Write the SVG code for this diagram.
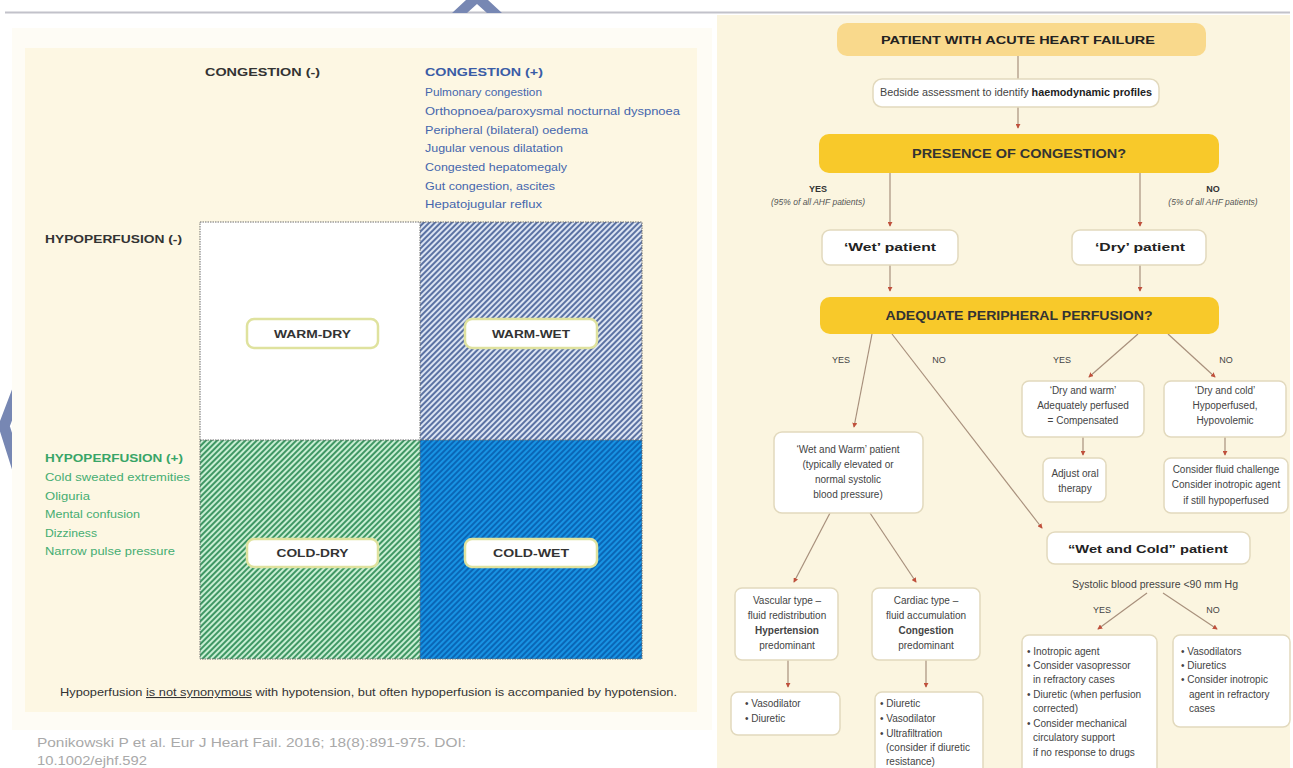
<svg xmlns="http://www.w3.org/2000/svg" width="1293" height="768" viewBox="0 0 1293 768">
  <style>
    text { font-family: "Liberation Sans", Arial, sans-serif; }
    .hdr { font-weight: bold; font-size: 11.5px; fill: #333; }
    .blu { font-size: 11.5px; fill: #4566ad; }
    .bluh { font-weight: bold; font-size: 11.5px; fill: #3a5ca6; }
    .grn { font-size: 11.5px; fill: #45ad72; }
    .grnh { font-weight: bold; font-size: 11.5px; fill: #38a567; }
    .qlab { font-weight: bold; font-size: 11px; fill: #333; text-anchor: middle; }
    .qbox { fill: #ffffff; stroke: #dfe29e; stroke-width: 2.5; }
    .cap { font-size: 10.5px; fill: #333; }
    .cite { font-size: 12.5px; fill: #a9a9a9; }
    .gold { fill: #f8c92a; }
    .pale { fill: #f9d98c; }
    .box { fill: #ffffff; stroke: #e2d9bd; stroke-width: 1.5; }
    .big { font-weight: bold; font-size: 13px; fill: #333; text-anchor: middle; }
    .mid { font-weight: bold; font-size: 11px; fill: #222; text-anchor: middle; }
    .sm { font-size: 10px; fill: #444; }
    .smc { font-size: 10px; fill: #444; text-anchor: middle; }
    .yn { font-size: 9px; fill: #444; text-anchor: middle; }
    .ynb { font-size: 9px; font-weight: bold; fill: #333; text-anchor: middle; }
    .pct { font-size: 8.5px; font-style: italic; fill: #555; text-anchor: middle; }
    .conn line { stroke: #a8907c; stroke-width: 1.2; fill: none; }
    .chev { fill: none; stroke: #7787b3; stroke-width: 11; }
  </style>
  <defs>
    <marker id="arr" viewBox="0 0 6 6" refX="5" refY="3" markerWidth="5" markerHeight="5" markerUnits="userSpaceOnUse" orient="auto">
      <path d="M0,0 L6,3 L0,6 z" fill="#c0503c"/>
    </marker>
    <pattern id="hatchBlueGray" width="4" height="4" patternUnits="userSpaceOnUse" patternTransform="rotate(45)">
      <rect width="4" height="4" fill="#dce4f2"/>
      <line x1="1" y1="0" x2="1" y2="4" stroke="#5b72a3" stroke-width="2"/>
    </pattern>
    <pattern id="hatchGreen" width="4" height="4" patternUnits="userSpaceOnUse" patternTransform="rotate(45)">
      <rect width="4" height="4" fill="#c8eed3"/>
      <line x1="1" y1="0" x2="1" y2="4" stroke="#3f9764" stroke-width="2"/>
    </pattern>
    <pattern id="hatchBlue" width="4" height="4" patternUnits="userSpaceOnUse" patternTransform="rotate(45)">
      <rect width="4" height="4" fill="#1893e3"/>
      <line x1="1" y1="0" x2="1" y2="4" stroke="#0a66b6" stroke-width="2"/>
    </pattern>
  </defs>

  <rect width="1293" height="768" fill="#ffffff"/>

  <!-- slide frame -->
  <line x1="5" y1="12.5" x2="1290" y2="12.5" stroke="#c2c2ca" stroke-width="2"/>
  <polygon points="466,0 488,0 502,13 487,13 477,4 467,13 452,13" fill="#7787b3"/>
  <polyline class="chev" points="20,384 4,426 18,470"/>

  <!-- left panel: haemodynamic profiles -->
  <rect x="12" y="28" width="700" height="702" fill="#fefcf5"/>
  <rect x="25" y="48" width="672" height="664" fill="#fdf7e3"/>

  <g id="axis-labels">
    <text class="hdr" x="205" y="76" textLength="115" lengthAdjust="spacingAndGlyphs">CONGESTION (-)</text>
    <text class="bluh" x="425" y="76" textLength="118" lengthAdjust="spacingAndGlyphs">CONGESTION (+)</text>
    <text class="blu" x="425" y="96" textLength="117" lengthAdjust="spacingAndGlyphs">Pulmonary congestion</text>
    <text class="blu" x="425" y="115" textLength="255" lengthAdjust="spacingAndGlyphs">Orthopnoea/paroxysmal nocturnal dyspnoea</text>
    <text class="blu" x="425" y="134" textLength="163" lengthAdjust="spacingAndGlyphs">Peripheral (bilateral) oedema</text>
    <text class="blu" x="425" y="152" textLength="138" lengthAdjust="spacingAndGlyphs">Jugular venous dilatation</text>
    <text class="blu" x="425" y="171" textLength="142" lengthAdjust="spacingAndGlyphs">Congested hepatomegaly</text>
    <text class="blu" x="425" y="190" textLength="130" lengthAdjust="spacingAndGlyphs">Gut congestion, ascites</text>
    <text class="blu" x="425" y="208" textLength="117" lengthAdjust="spacingAndGlyphs">Hepatojugular reflux</text>

    <text class="hdr" x="45" y="243" textLength="137" lengthAdjust="spacingAndGlyphs">HYPOPERFUSION (-)</text>
    <text class="grnh" x="45" y="462" textLength="138" lengthAdjust="spacingAndGlyphs">HYPOPERFUSION (+)</text>
    <text class="grn" x="45" y="481" textLength="145" lengthAdjust="spacingAndGlyphs">Cold sweated extremities</text>
    <text class="grn" x="45" y="500" textLength="45" lengthAdjust="spacingAndGlyphs">Oliguria</text>
    <text class="grn" x="45" y="518" textLength="95" lengthAdjust="spacingAndGlyphs">Mental confusion</text>
    <text class="grn" x="45" y="537" textLength="52" lengthAdjust="spacingAndGlyphs">Dizziness</text>
    <text class="grn" x="45" y="555" textLength="130" lengthAdjust="spacingAndGlyphs">Narrow pulse pressure</text>
  </g>

  <g id="quadrant-warm-dry">
    <rect x="200" y="222" width="220" height="218" fill="#ffffff"/>
    <rect class="qbox" x="247" y="319" width="131" height="29" rx="7"/>
    <text class="qlab" x="312.5" y="338" textLength="77" lengthAdjust="spacingAndGlyphs">WARM-DRY</text>
  </g>
  <g id="quadrant-warm-wet">
    <rect x="420" y="222" width="222" height="218" fill="url(#hatchBlueGray)"/>
    <rect class="qbox" x="465" y="319" width="132" height="29" rx="7"/>
    <text class="qlab" x="531" y="338" textLength="78" lengthAdjust="spacingAndGlyphs">WARM-WET</text>
  </g>
  <g id="quadrant-cold-dry">
    <rect x="200" y="440" width="220" height="219" fill="url(#hatchGreen)"/>
    <rect class="qbox" x="247" y="539" width="131" height="28" rx="7"/>
    <text class="qlab" x="312.5" y="557" textLength="72" lengthAdjust="spacingAndGlyphs">COLD-DRY</text>
  </g>
  <g id="quadrant-cold-wet">
    <rect x="420" y="440" width="222" height="219" fill="url(#hatchBlue)"/>
    <rect class="qbox" x="465" y="539" width="132" height="28" rx="7"/>
    <text class="qlab" x="531" y="557" textLength="76" lengthAdjust="spacingAndGlyphs">COLD-WET</text>
  </g>
  <g id="grid-lines" fill="none" stroke="#6d6d6d" stroke-width="1" stroke-dasharray="1.5 1">
    <rect x="200" y="222" width="442" height="437"/>
    <line x1="420" y1="222" x2="420" y2="659"/>
    <line x1="200" y1="440" x2="642" y2="440"/>
  </g>

  <text class="cap" x="60" y="696" textLength="617" lengthAdjust="spacingAndGlyphs">Hypoperfusion <tspan text-decoration="underline">is not synonymous</tspan> with hypotension, but often hypoperfusion is accompanied by hypotension.</text>

  <text class="cite" x="37" y="747" textLength="429" lengthAdjust="spacingAndGlyphs">Ponikowski P et al. Eur J Heart Fail. 2016; 18(8):891-975. DOI:</text>
  <text class="cite" x="37" y="765" font-size="11.5" textLength="110" lengthAdjust="spacingAndGlyphs">10.1002/ejhf.592</text>

  <!-- right panel: management algorithm -->
  <rect x="717" y="15" width="573" height="753" fill="#fbf5e0"/>

  <g class="conn">
    <line x1="1018" y1="56" x2="1018" y2="79"/>
    <line x1="1018" y1="107" x2="1018" y2="128" marker-end="url(#arr)"/>
    <line x1="890" y1="173" x2="890" y2="226" marker-end="url(#arr)"/>
    <line x1="1140" y1="173" x2="1140" y2="226" marker-end="url(#arr)"/>
    <line x1="890" y1="265" x2="890" y2="291" marker-end="url(#arr)"/>
    <line x1="1140" y1="265" x2="1140" y2="291" marker-end="url(#arr)"/>
    <line x1="872" y1="334" x2="854" y2="427" marker-end="url(#arr)"/>
    <line x1="892" y1="334" x2="1042" y2="528" marker-end="url(#arr)"/>
    <line x1="1138" y1="334" x2="1089" y2="377" marker-end="url(#arr)"/>
    <line x1="1168" y1="334" x2="1215" y2="377" marker-end="url(#arr)"/>
    <line x1="1083" y1="437" x2="1083" y2="455" marker-end="url(#arr)"/>
    <line x1="1225" y1="437" x2="1225" y2="455" marker-end="url(#arr)"/>
    <line x1="830" y1="513" x2="794" y2="582" marker-end="url(#arr)"/>
    <line x1="870" y1="513" x2="916" y2="582" marker-end="url(#arr)"/>
    <line x1="788" y1="660" x2="788" y2="687" marker-end="url(#arr)"/>
    <line x1="926" y1="660" x2="926" y2="687" marker-end="url(#arr)"/>
    <line x1="1147" y1="593" x2="1098" y2="629" marker-end="url(#arr)"/>
    <line x1="1163" y1="593" x2="1217" y2="629" marker-end="url(#arr)"/>
  </g>

  <g id="branch-labels">
    <text class="ynb" x="818" y="192">YES</text>
    <text class="pct" x="818" y="205">(95% of all AHF patients)</text>
    <text class="ynb" x="1213" y="192">NO</text>
    <text class="pct" x="1213" y="205">(5% of all AHF patients)</text>
    <text class="yn" x="841" y="363">YES</text>
    <text class="yn" x="939" y="363">NO</text>
    <text class="yn" x="1062" y="363">YES</text>
    <text class="yn" x="1226" y="363">NO</text>
    <text class="yn" x="1102" y="613">YES</text>
    <text class="yn" x="1213" y="613">NO</text>
  </g>

  <g id="n-patient">
    <rect class="pale" x="837" y="23" width="369" height="33" rx="10"/>
    <text class="mid" x="1018" y="44" textLength="274" lengthAdjust="spacingAndGlyphs">PATIENT WITH ACUTE HEART FAILURE</text>
  </g>
  <g id="n-bedside">
    <rect class="box" x="873" y="79" width="286" height="28" rx="9"/>
    <text class="smc" x="1016" y="96" font-size="9" textLength="272" lengthAdjust="spacingAndGlyphs">Bedside assessment to identify <tspan font-weight="bold" fill="#222">haemodynamic profiles</tspan></text>
  </g>
  <g id="n-congestion">
    <rect class="gold" x="819" y="134" width="400" height="39" rx="10"/>
    <text class="big" x="1019" y="158" textLength="214" lengthAdjust="spacingAndGlyphs">PRESENCE OF CONGESTION?</text>
  </g>
  <g id="n-wet">
    <rect class="box" x="822" y="230" width="136" height="35" rx="8"/>
    <text class="mid" x="890" y="251" textLength="92" lengthAdjust="spacingAndGlyphs">‘Wet’ patient</text>
  </g>
  <g id="n-dry">
    <rect class="box" x="1072" y="230" width="134" height="35" rx="8"/>
    <text class="mid" x="1140" y="251" textLength="90" lengthAdjust="spacingAndGlyphs">‘Dry’ patient</text>
  </g>
  <g id="n-perfusion">
    <rect class="gold" x="820" y="297" width="399" height="37" rx="10"/>
    <text class="big" x="1019" y="320" textLength="267" lengthAdjust="spacingAndGlyphs">ADEQUATE PERIPHERAL PERFUSION?</text>
  </g>
  <g id="n-dry-warm">
    <rect class="box" x="1022" y="381" width="122" height="56" rx="7"/>
    <text class="smc" x="1083" y="394">‘Dry and warm’</text>
    <text class="smc" x="1083" y="409">Adequately perfused</text>
    <text class="smc" x="1083" y="424">= Compensated</text>
  </g>
  <g id="n-dry-cold">
    <rect class="box" x="1164" y="381" width="122" height="56" rx="7"/>
    <text class="smc" x="1225" y="394">‘Dry and cold’</text>
    <text class="smc" x="1225" y="409">Hypoperfused,</text>
    <text class="smc" x="1225" y="424">Hypovolemic</text>
  </g>
  <g id="n-adjust">
    <rect class="box" x="1043" y="458" width="63" height="44" rx="7"/>
    <text class="smc" x="1075" y="477">Adjust oral</text>
    <text class="smc" x="1075" y="492">therapy</text>
  </g>
  <g id="n-fluid">
    <rect class="box" x="1164" y="458" width="124" height="55" rx="7"/>
    <text class="smc" x="1226" y="473">Consider fluid challenge</text>
    <text class="smc" x="1226" y="488">Consider inotropic agent</text>
    <text class="smc" x="1226" y="504">if still hypoperfused</text>
  </g>
  <g id="n-wet-warm">
    <rect class="box" x="774" y="432" width="149" height="81" rx="8"/>
    <text class="smc" x="848" y="453">‘Wet and Warm’ patient</text>
    <text class="smc" x="848" y="468">(typically elevated or</text>
    <text class="smc" x="848" y="483">normal systolic</text>
    <text class="smc" x="848" y="498">blood pressure)</text>
  </g>
  <g id="n-vascular">
    <rect class="box" x="735" y="588" width="103" height="72" rx="7"/>
    <text class="smc" x="787" y="604">Vascular type –</text>
    <text class="smc" x="787" y="619">fluid redistribution</text>
    <text class="smc" x="787" y="634" font-weight="bold" fill="#222">Hypertension</text>
    <text class="smc" x="787" y="649">predominant</text>
  </g>
  <g id="n-cardiac">
    <rect class="box" x="872" y="588" width="108" height="72" rx="7"/>
    <text class="smc" x="926" y="604">Cardiac type –</text>
    <text class="smc" x="926" y="619">fluid accumulation</text>
    <text class="smc" x="926" y="634" font-weight="bold" fill="#222">Congestion</text>
    <text class="smc" x="926" y="649">predominant</text>
  </g>
  <g id="n-vascular-tx">
    <rect class="box" x="731" y="692" width="109" height="43" rx="7"/>
    <text class="sm" x="745" y="707">• Vasodilator</text>
    <text class="sm" x="745" y="722">• Diuretic</text>
  </g>
  <g id="n-cardiac-tx">
    <rect class="box" x="875" y="692" width="108" height="84" rx="7"/>
    <text class="sm" x="880" y="707">• Diuretic</text>
    <text class="sm" x="880" y="722">• Vasodilator</text>
    <text class="sm" x="880" y="737">• Ultrafiltration</text>
    <text class="sm" x="886" y="751">(consider if diuretic</text>
    <text class="sm" x="886" y="765">resistance)</text>
  </g>
  <g id="n-wet-cold">
    <rect class="box" x="1047" y="532" width="203" height="32" rx="8"/>
    <text class="mid" x="1148" y="553" font-size="12" textLength="160" lengthAdjust="spacingAndGlyphs">“Wet and Cold” patient</text>
    <text class="smc" x="1155" y="588" font-size="9.5" textLength="166" lengthAdjust="spacingAndGlyphs">Systolic blood pressure &lt;90 mm Hg</text>
  </g>
  <g id="n-cold-low-bp">
    <rect class="box" x="1022" y="635" width="135" height="140" rx="7"/>
    <text class="sm" x="1027" y="655">• Inotropic agent</text>
    <text class="sm" x="1027" y="669">• Consider vasopressor</text>
    <text class="sm" x="1033" y="683">in refractory cases</text>
    <text class="sm" x="1027" y="698">• Diuretic (when perfusion</text>
    <text class="sm" x="1033" y="712">corrected)</text>
    <text class="sm" x="1027" y="727">• Consider mechanical</text>
    <text class="sm" x="1033" y="741">circulatory support</text>
    <text class="sm" x="1033" y="756">if no response to drugs</text>
  </g>
  <g id="n-cold-normal-bp">
    <rect class="box" x="1173" y="635" width="117" height="92" rx="7"/>
    <text class="sm" x="1181" y="655">• Vasodilators</text>
    <text class="sm" x="1181" y="669">• Diuretics</text>
    <text class="sm" x="1181" y="683">• Consider inotropic</text>
    <text class="sm" x="1189" y="698">agent in refractory</text>
    <text class="sm" x="1189" y="712">cases</text>
  </g>
</svg>
